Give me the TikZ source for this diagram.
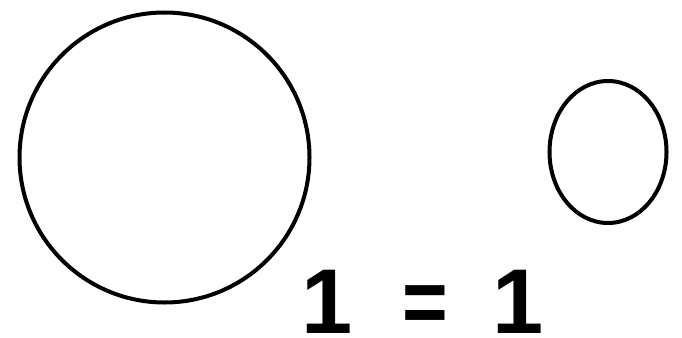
\documentclass[tikz,border=0pt]{standalone}
\usepackage{fontspec}
\setmainfont{Liberation Sans}
\usetikzlibrary{shapes.geometric}
\begin{document}
\begin{tikzpicture}[x=1pt,y=-1pt,
  ring/.style={draw=black, line width=4pt, inner sep=0pt},
  digit/.style={inner sep=0pt, anchor=base, font=\fontsize{92}{92}\selectfont\bfseries}]
\useasboundingbox (0,0) rectangle (682,337);
\node[ring, circle, minimum size=290pt] (big) at (164.5,157.5) {};
\node[ring, ellipse, minimum width=117pt, minimum height=142pt] (small) at (608,152) {};
\node[digit] (one1) at (327,333) {1};
\node[digit, xscale=0.85] (eq) at (425,333) {=};
\node[digit] (one2) at (518,333) {1};
\end{tikzpicture}
\end{document}
